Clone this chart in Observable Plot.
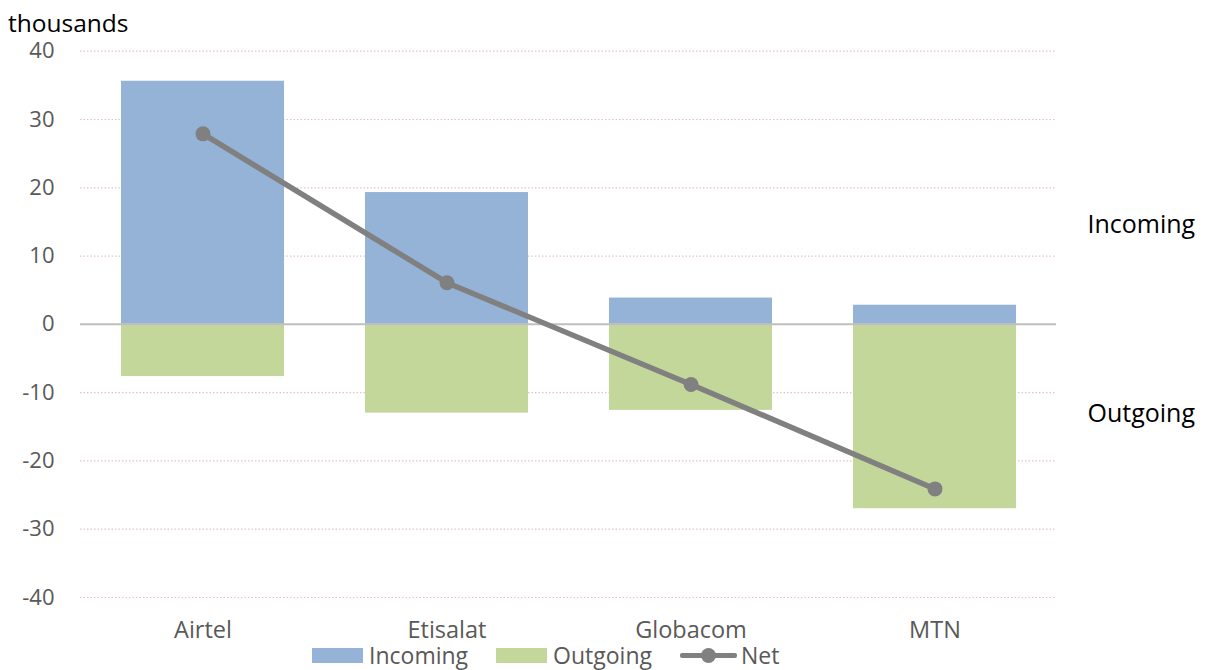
<!DOCTYPE html>
<html>
<head>
<meta charset="utf-8">
<script src="https://cdn.jsdelivr.net/npm/d3@7"></script>
<script src="https://cdn.jsdelivr.net/npm/@observablehq/plot@0.6"></script>
<style>
  html, body { margin: 0; padding: 0; background: #fff; }
  body { width: 1209px; height: 670px; overflow: hidden; font-family: "Open Sans", sans-serif; }
  #title { height: 30px; position: relative; }
  #title span { position: absolute; left: 8px; top: 11px; font-size: 24.5px; color: #000; line-height: 1; white-space: nowrap; }
  #chart { height: 615px; }
  #chart svg { overflow: visible; }
  #legend { height: 25px; display: flex; justify-content: flex-start; align-items: center; font-size: 23px; color: #595959; padding-left: 312px; position: relative; top: -2px; }
  .item { display: flex; align-items: center; margin-right: 28px; white-space: nowrap; }
  .item span { line-height: 1; }
  .sw { width: 51px; height: 15px; margin-right: 6px; }
  .lineSw { position: relative; width: 57px; height: 15px; margin-right: 4px; }
  .lineSw .l { position: absolute; left: 0; right: 0; top: 5px; height: 5px; background: #808080; border-radius: 2px; }
  .lineSw .c { position: absolute; left: 21px; top: 0; width: 15px; height: 15px; border-radius: 50%; background: #808080; }
</style>
</head>
<body>
<div id="title"><span>thousands</span></div>
<div id="chart"></div>
<div id="legend"></div>
<script>
const categories = ["Airtel", "Etisalat", "Globacom", "MTN"];
const incoming = [35.6, 19.3, 3.85, 2.8];
const outgoing = [-7.65, -13.0, -12.6, -27.0];
const net = [27.9, 6.1, -8.8, -24.1];
const yTicks = [-40, -30, -20, -10, 0, 10, 20, 30, 40];
const sideLabels = ["Incoming", "Outgoing"];
const sideLabelY = [14.6, -13.2];
const seriesNames = ["Incoming", "Outgoing", "Net"];
const colors = { Incoming: "#95B3D7", Outgoing: "#C4D79B", Net: "#808080" };

const rows = categories.map((c, i) => ({ c, incoming: incoming[i], outgoing: outgoing[i], net: net[i] }));
const sides = sideLabels.map((t, i) => ({ t, y: sideLabelY[i] }));

const chart = Plot.plot({
  width: 1209,
  height: 615,
  marginLeft: 80,
  marginRight: 153,
  marginTop: 20.7,
  marginBottom: 48,
  style: { fontFamily: "'Open Sans', sans-serif", background: "#fff" },
  x: { type: "band", domain: categories, paddingInner: 1/3, paddingOuter: 1/6 },
  y: { domain: [-40, 40] },
  marks: [
    Plot.ruleY(yTicks.filter(d => d !== 0), { stroke: "#E3C4C4", strokeWidth: 1.2, strokeDasharray: "1.5,2" }),
    Plot.barY(rows, { x: "c", y1: 0, y2: "incoming", fill: colors.Incoming }),
    Plot.barY(rows, { x: "c", y1: 0, y2: "outgoing", fill: colors.Outgoing }),
    Plot.ruleY([0], { stroke: "#BFBFBF", strokeWidth: 2 }),
    Plot.line(rows, { x: "c", y: "net", stroke: colors.Net, strokeWidth: 5.5 }),
    Plot.dot(rows, { x: "c", y: "net", r: 7.5, fill: colors.Net, stroke: "none" }),
    Plot.text(sides, { y: "y", text: "t", frameAnchor: "right", textAnchor: "start", dx: 31, fontSize: 25, fill: "#000" }),
    Plot.axisY({ ticks: yTicks, tickSize: 0, tickPadding: 26, fontSize: 22, color: "#595959", label: null, tickFormat: d => String(d) }),
    Plot.axisX({ tickSize: 0, tickPadding: 24, fontSize: 23.5, color: "#595959", label: null })
  ]
});
document.getElementById("chart").appendChild(chart);

const legend = document.getElementById("legend");
seriesNames.forEach(name => {
  const item = document.createElement("div");
  item.className = "item";
  if (name === "Net") {
    const sw = document.createElement("div");
    sw.className = "lineSw";
    sw.innerHTML = '<div class="l"></div><div class="c"></div>';
    item.appendChild(sw);
  } else {
    const sw = document.createElement("div");
    sw.className = "sw";
    sw.style.background = colors[name];
    item.appendChild(sw);
  }
  const label = document.createElement("span");
  label.textContent = name;
  item.appendChild(label);
  legend.appendChild(item);
});
</script>
</body>
</html>
